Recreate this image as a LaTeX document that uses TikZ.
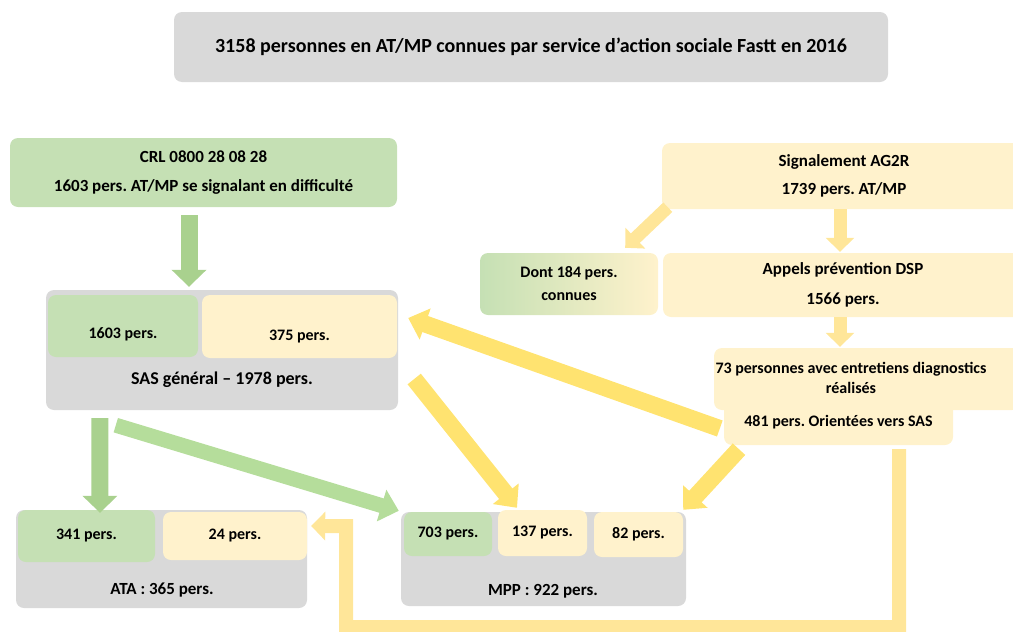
\documentclass[tikz,border=0pt]{standalone}
\usepackage{fontspec}
\setmainfont{Carlito}
\usetikzlibrary{arrows.meta}
\frenchspacing
\definecolor{fasttgrey}{HTML}{D9D9D9}
\definecolor{fasttgreen}{HTML}{C5E0B4}
\definecolor{fasttcream}{HTML}{FFF2CC}
\definecolor{fasttleaf}{HTML}{A9D18E}
\definecolor{fasttlime}{HTML}{B5DD9B}
\definecolor{fasttsand}{HTML}{FFE699}
\definecolor{fasttsun}{HTML}{FFE370}

\begin{document}
\begin{tikzpicture}[x=1pt, y=-1pt, every node/.style={font=\bfseries\fontsize{16}{19}\selectfont}, big/.style={font=\bfseries\fontsize{17}{20}\selectfont}, sink/.style={text height=#1, text depth=0pt}, box/.style={rounded corners=8pt, inner sep=0pt, align=center}, greybox/.style={box, fill=fasttgrey}, greenbox/.style={box, fill=fasttgreen}, creambox/.style={box, fill=fasttcream}, leafflow/.style={draw=fasttleaf, line width=17pt, -{Triangle[width=34pt,length=17pt]}}, limeflow/.style={draw=fasttlime, line width=15pt, -{Triangle[width=32pt,length=18pt]}}, sandflow/.style={draw=fasttsand, line width=13pt, -{Triangle[width=28pt,length=14pt]}}, sunflow/.style={draw=fasttsun, line width=17pt, -{Triangle[width=32pt,length=18pt]}}]
\useasboundingbox (0,0) rectangle (1013,632);
\node[greybox, minimum width=714pt, minimum height=70pt, font=\bfseries\fontsize{20}{24}\selectfont] (titre) at (531,47) {3158 personnes en AT/MP connues par service d’action sociale Fastt en 2016};
% left column
\node[greenbox, big, minimum width=387pt, minimum height=69pt] (crl) at (203.5,172.5) {CRL 0800 28 08 28\\[8.5pt]1603 pers. AT/MP se signalant en difficulté};
\node[greybox, minimum width=352pt, minimum height=120pt] (sas) at (222,350) {};
\node[greenbox, sink=25pt, minimum width=150pt, minimum height=62pt] (sasv) at (123,326) {1603 pers.};
\node[creambox, sink=28pt, minimum width=195pt, minimum height=63pt] (sasj) at (299.5,326.5) {375 pers.};
\node[font=\bfseries\fontsize{18}{21}\selectfont] (sastxt) at (222,380) {SAS général – 1978 pers.};
% right column
\node[creambox, big, minimum width=364pt, minimum height=66pt] (signal) at (844,176) {Signalement AG2R\\[8.5pt]1739 pers. AT/MP};
\node[box, left color=fasttgreen, right color=fasttcream, minimum width=178pt, minimum height=62pt] (dont) at (569,284) {Dont 184 pers.\\[4pt]connues};
\node[creambox, big, minimum width=360pt, minimum height=64pt] (appels) at (843,285) {Appels prévention DSP\\[9.5pt]1566 pers.};
\node[creambox, minimum width=306pt, minimum height=62pt] (diag) at (867,379) {};
\node[align=center] (diagtxt) at (851,378) {73 personnes avec entretiens diagnostics\\[1pt]réalisés};
\node[creambox, minimum width=229pt, minimum height=45pt] (orient) at (838.5,422.5) {481 pers. Orientées vers SAS};
% bottom row
\node[greybox, minimum width=291pt, minimum height=98pt] (ata) at (161.5,559) {};
\node[greenbox, minimum width=137pt, minimum height=52pt] (atav) at (86.5,536) {341 pers.};
\node[creambox, minimum width=144pt, minimum height=48pt] (ataj) at (235,536) {24 pers.};
\node[big] (atatxt) at (162,590) {ATA : 365 pers.};
\node[greybox, minimum width=285pt, minimum height=94pt] (mpp) at (543.5,559) {};
\node[greenbox, minimum width=88pt, minimum height=44pt] (mppv) at (448,534) {703 pers.};
\node[creambox, minimum width=89pt, minimum height=46pt] (mppj) at (542.5,533) {137 pers.};
\node[creambox, minimum width=89pt, minimum height=45pt] (mppo) at (638.5,534.5) {82 pers.};
\node[big] (mpptxt) at (543,591) {MPP : 922 pers.};
% arrows
\draw[leafflow] ([shift={(-14.5,8)}]crl.south) -- ([shift={(-33,-3)}]sas.north);
\draw[sandflow] ([shift={(6,-2)}]signal.south west) -- ([shift={(-33,-5)}]dont.north east);
\draw[sandflow] ([shift={(-4,0)}]signal.south) -- ([shift={(-3,-1)}]appels.north);
\draw[sandflow] ([shift={(-3,0)}]appels.south) -- ([shift={(-27,-1)}]diag.north);
\draw[sunflow] ([shift={(-4,6)}]orient.west) -- ([shift={(10,-32)}]sas.east);
\draw[sunflow] ([shift={(16,29)}]sas.east) -- ([shift={(-25.5,-2)}]mppj.north);
\draw[sunflow] ([shift={(-99.5,4)}]orient.south) -- ([shift={(0,-2)}]mppo.north east);
\draw[leafflow] ([shift={(54,8)}]sas.south west) -- ([shift={(13.5,3)}]atav.north);
\draw[limeflow] ([shift={(70,15)}]sas.south west) -- ([shift={(-2,-1)}]mpp.north west);
\draw[sandflow, line width=14pt] ([shift={(-54,4)}]orient.south east) -- ++(0,178) -| ++(-553,-101) -- ([shift={(4,-10)}]ataj.east);
\end{tikzpicture}
\end{document}
